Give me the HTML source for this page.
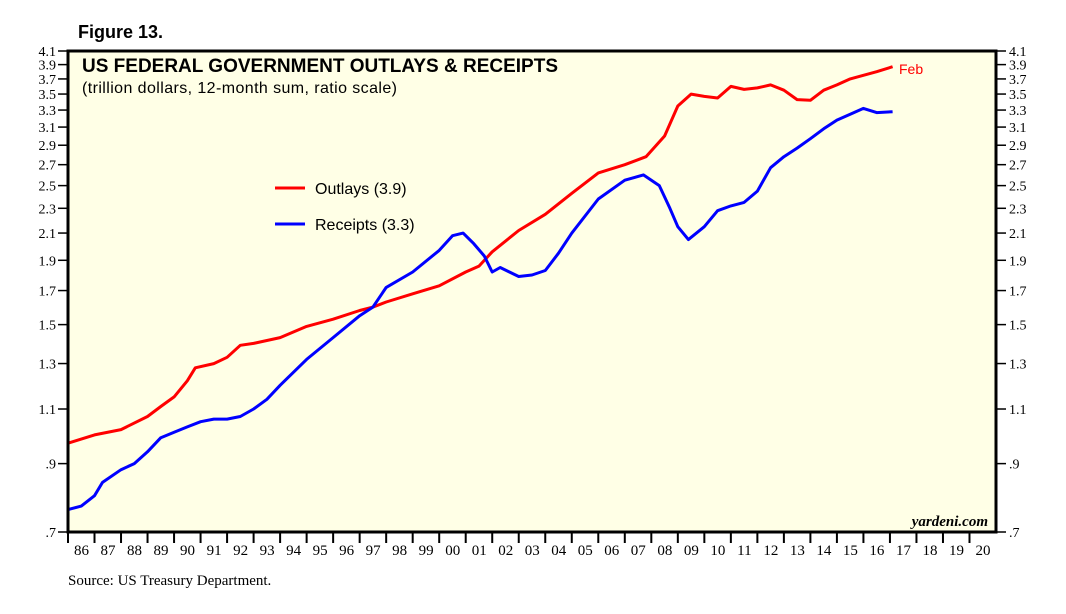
<!DOCTYPE html>
<html><head><meta charset="utf-8"><style>
body{margin:0;background:#fff;}
svg text{font-family:"Liberation Serif",serif;}
</style></head><body>
<svg id="chart" width="1066" height="609" xmlns="http://www.w3.org/2000/svg">
<text x="78" y="38" style="font-family:'Liberation Sans',sans-serif" font-weight="bold" font-size="18">Figure 13.</text>
<rect x="68" y="51" width="928" height="481" fill="#ffffe6"/>
<g id="axes"></g>
<g id="series"></g>
<rect x="68" y="51" width="928" height="481" fill="none" stroke="#000" stroke-width="3"/>
<text x="82" y="72" style="font-family:'Liberation Sans',sans-serif" font-weight="bold" font-size="19" textLength="476">US FEDERAL GOVERNMENT OUTLAYS &amp; RECEIPTS</text>
<text x="82" y="93" style="font-family:'Liberation Sans',sans-serif" font-size="16" textLength="315">(trillion dollars, 12-month sum, ratio scale)</text>
<line x1="275" y1="188" x2="305" y2="188" stroke="#f00" stroke-width="3"/>
<text x="315" y="194" style="font-family:'Liberation Sans',sans-serif" font-size="16">Outlays (3.9)</text>
<line x1="275" y1="224" x2="305" y2="224" stroke="#00f" stroke-width="3"/>
<text x="315" y="230" style="font-family:'Liberation Sans',sans-serif" font-size="16">Receipts (3.3)</text>
<text x="899" y="74" fill="#f00" style="font-family:'Liberation Sans',sans-serif" font-size="14">Feb</text>
<text x="988" y="526" text-anchor="end" font-style="italic" font-weight="bold" font-size="15">yardeni.com</text>
<text x="68" y="585" font-size="15">Source: US Treasury Department.</text>
</svg>
<script>
const yTicks=[0.7,0.9,1.1,1.3,1.5,1.7,1.9,2.1,2.3,2.5,2.7,2.9,3.1,3.3,3.5,3.7,3.9,4.1];
const yTickLabels=[".7",".9","1.1","1.3","1.5","1.7","1.9","2.1","2.3","2.5","2.7","2.9","3.1","3.3","3.5","3.7","3.9","4.1"];
const years=["86","87","88","89","90","91","92","93","94","95","96","97","98","99","00","01","02","03","04","05","06","07","08","09","10","11","12","13","14","15","16","17","18","19","20"];
const outlayDates=[1986,1987,1988,1989,1989.5,1990,1990.5,1990.8,1991.5,1992,1992.5,1993,1994,1995,1996,1997,1997.5,1998,1999,2000,2001,2001.5,2002,2003,2004,2005,2006,2007,2007.8,2008.5,2009,2009.5,2010,2010.5,2011,2011.5,2012,2012.5,2013,2013.5,2014,2014.5,2015,2015.5,2016,2016.5,2017.1];
const outlayValues=[0.97,1.0,1.02,1.07,1.11,1.15,1.22,1.28,1.30,1.33,1.39,1.40,1.43,1.49,1.53,1.58,1.60,1.63,1.68,1.73,1.82,1.86,1.96,2.12,2.25,2.43,2.62,2.70,2.78,3.0,3.35,3.50,3.47,3.45,3.60,3.56,3.58,3.62,3.55,3.43,3.42,3.55,3.62,3.70,3.75,3.80,3.87];
const receiptDates=[1986,1986.5,1987,1987.3,1988,1988.5,1989,1989.5,1990,1990.5,1991,1991.5,1992,1992.5,1993,1993.5,1994,1995,1996,1997,1997.5,1998,1999,2000,2000.5,2000.9,2001.3,2001.7,2002,2002.3,2003,2003.5,2004,2004.5,2005,2006,2007,2007.7,2008.3,2008.7,2009,2009.4,2010,2010.5,2011,2011.5,2012,2012.5,2013,2013.5,2014,2014.5,2015,2015.5,2016,2016.5,2017.1];
const receiptValues=[0.76,0.77,0.80,0.84,0.88,0.90,0.94,0.99,1.01,1.03,1.05,1.06,1.06,1.07,1.10,1.14,1.20,1.32,1.43,1.55,1.60,1.72,1.82,1.97,2.08,2.10,2.02,1.93,1.82,1.85,1.79,1.80,1.83,1.95,2.10,2.38,2.55,2.60,2.50,2.30,2.15,2.05,2.15,2.28,2.32,2.35,2.45,2.67,2.78,2.87,2.97,3.08,3.18,3.25,3.32,3.27,3.28];
const NS="http://www.w3.org/2000/svg";
const X0=68,X1=996,Y0=532,Y1=51;
function xs(t){return X0+(t-1986)/35*(X1-X0);}
function ys(v){return Y0-(Math.log(v/0.7)/Math.log(4.1/0.7))*(Y0-Y1);}
function mk(tag,attrs,parent){const e=document.createElementNS(NS,tag);for(const k in attrs)e.setAttribute(k,attrs[k]);parent.appendChild(e);return e;}
const ax=document.getElementById('axes');
yTicks.forEach((v,i)=>{
  const y=ys(v);
  const l=mk('line',{x1:58,y1:y,x2:68,y2:y,stroke:'#000','stroke-width':1.5},ax);
  
  
  const r=mk('line',{x1:996,y1:y,x2:1006,y2:y,stroke:'#000','stroke-width':1.5},ax);
  
  
  const t=mk('text',{x:56,y:y+5,'text-anchor':'end','font-size':14},ax);
  t.textContent=yTickLabels[i];
  
  
  const t2=mk('text',{x:1009,y:y+5,'font-size':14},ax);
  t2.textContent=yTickLabels[i];
  
  
});
years.forEach((yr,i)=>{
  const x=xs(1986+i);
  const l=mk('line',{x1:x,y1:532,x2:x,y2:543,stroke:'#000','stroke-width':2},ax);
  
  
  const t=mk('text',{x:x+13.5,y:555,'text-anchor':'middle','font-size':15},ax);
  t.textContent=yr;
  
  
});
const sg=document.getElementById('series');
function line(d,v,c,name){
  const p=d.map((t,i)=>(i?'L':'M')+xs(t).toFixed(1)+','+ys(v[i]).toFixed(1)).join('');
  const e=mk('path',{d:p,fill:'none',stroke:c,'stroke-width':3,'stroke-linejoin':'round'},sg);
  
  
}
line(outlayDates,outlayValues,'#f00','outlays-line');
line(receiptDates,receiptValues,'#00f','receipts-line');
</script>
</body></html>
